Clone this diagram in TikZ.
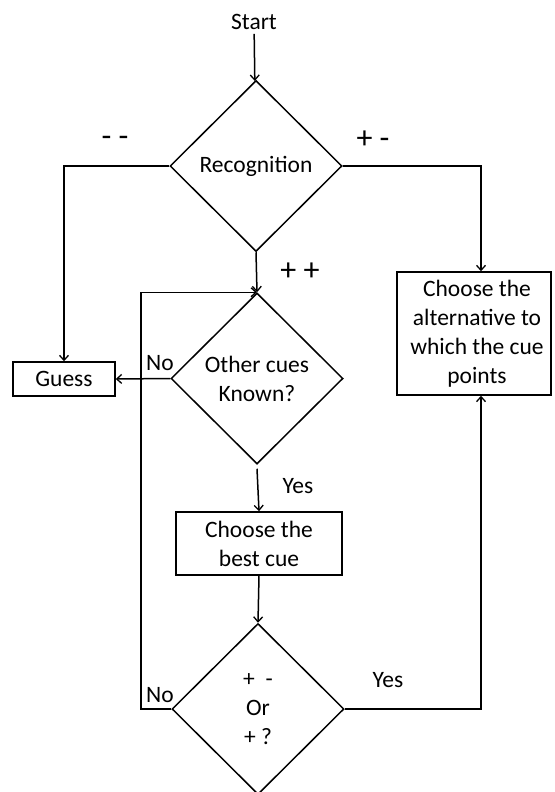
\documentclass[tikz,border=0pt]{standalone}
\usepackage{fontspec}
\setmainfont{Carlito}
\usetikzlibrary{shapes.geometric, arrows.meta}

\begin{document}
\begin{tikzpicture}[x=1pt, y=-1pt, line width=1.5pt,
    >={Straight Barb[length=5pt, width=9pt, line width=1.3pt]},
    every node/.style={font=\fontsize{23.5}{29}\selectfont},
    decision/.style={draw, diamond, aspect=1, inner sep=0pt,
      minimum width=172pt, minimum height=171pt, align=center},
    block/.style={draw, rectangle, inner sep=2pt, align=center},
    sign/.style={font=\fontsize{32}{36}\selectfont}]
    \useasboundingbox (0,0) rectangle (554,792);

    % Nodos
    \node (start) at (254,22) {Start};
    \node[decision] (recog) at (256,166) {Recognition};
    \node[block, minimum width=102pt, minimum height=34pt] (guess) at (64,379) {Guess};
    \node[block, minimum width=154pt, minimum height=123pt] (alt) at (474,333.5)
      {\hspace*{6pt}Choose the\\\hspace*{6pt}alternative to\\\hspace*{6pt}which the cue\\\hspace*{6pt}points};
    \node[decision] (other) at (257,378.5) {Other cues\\Known?};
    \node[block, minimum width=166pt, minimum height=63pt] (best) at (259,543.5) {Choose the\\best cue};
    \node[decision] (pm) at (258,709) {+\ \ -\\Or\\+ ?};

    % Etiquetas
    \node[sign] (mm) at (115,141) {- -};
    \node[sign] (pmlab) at (373,140) {+ -};
    \node[sign] (pp) at (300,272) {+ +};
    \node (no1) at (160,363) {No};
    \node (yes1) at (298,486) {Yes};
    \node (no2) at (160,695) {No};
    \node (yes2) at (388,680) {Yes};

    % Flechas
    \coordinate (loop) at (141,0);
    \draw[->] (start) -- (recog);
    \draw[->] (recog.west) -| (guess.north);
    \draw[->] (recog.east) -| ([xshift=7pt]alt.north);
    \draw[->] (recog.south) -- (other.north);
    \draw[->] (other.west) -- (guess.east);
    \draw[->] ([yshift=-4pt]other.south) -- (best.north);
    \draw[->] (best.south) -- (pm.north);
    \draw[->] (pm.west) -- (pm.west -| loop) |- (other.north);
    \draw[->] (pm.east) -| ([xshift=7pt]alt.south);
  \end{tikzpicture}
\end{document}
